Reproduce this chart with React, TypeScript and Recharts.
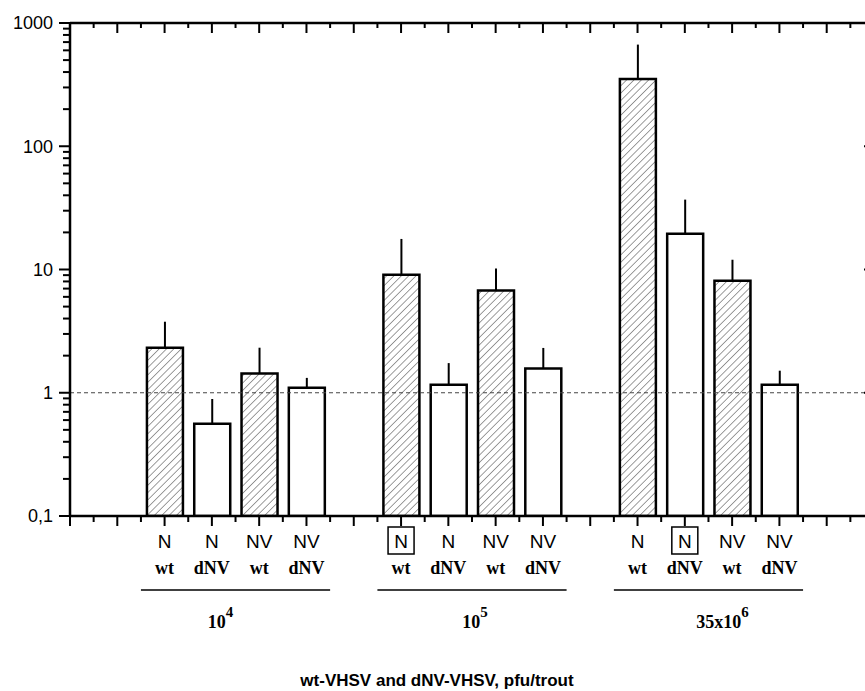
import { BarChart, Bar, XAxis, YAxis, Cell, ErrorBar, ReferenceLine } from "recharts";

// slot of each bar on the x axis (1 unit = 1 slot), three dose groups of four bars
const POSITIONS = [2, 3, 4, 5, 7, 8, 9, 10, 12, 13, 14, 15];
const SEGMENT = ["N", "N", "NV", "NV", "N", "N", "NV", "NV", "N", "N", "NV", "NV"];
const STRAIN = ["wt", "dNV", "wt", "dNV", "wt", "dNV", "wt", "dNV", "wt", "dNV", "wt", "dNV"];
const BOXED = [false, false, false, false, true, false, false, false, false, true, false, false];
const MEAN = [2.32, 0.56, 1.43, 1.1, 9.07, 1.16, 6.77, 1.57, 352, 19.5, 8.11, 1.16];
const UPPER = [3.77, 0.89, 2.32, 1.32, 17.7, 1.74, 10.2, 2.31, 668, 36.9, 12.0, 1.51];

const GROUP_CENTERS = [3.5, 8.5, 13.5];
const GROUP_BASE = ["10", "10", "35x10"];
const GROUP_EXP = ["4", "5", "6"];
const GROUP_DX = [-15, 3, 14];

const Y_MAJOR = [0.1, 1, 10, 100, 1000];
const Y_TICKS = Y_MAJOR.flatMap((d) => (d < 1000 ? [2, 3, 4, 5, 6, 7, 8, 9].map((m) => +(d * m).toPrecision(3)) : [])).concat(Y_MAJOR);
const X_MAX = 17;
const X_TICKS = Array.from({ length: X_MAX * 2 + 1 }, (_, i) => i / 2);

const ROWS = POSITIONS.map((pos, i) => ({ pos, mean: MEAN[i], err: [0, UPPER[i] - MEAN[i]] }));

const W = 900;
const H = 691;
const TOP = 23;
const LEFT_W = 70;
const RIGHT_W = 26;
const UNIT = (W - LEFT_W - RIGHT_W) / X_MAX;

const SANS = "'Liberation Sans', Arial, sans-serif";
const SERIF = "'Liberation Serif', 'Times New Roman', serif";

const fmtY = (v: number) => String(v).replace(".", ",");

const LeftTick = ({ x, y, payload }: any) => {
  const major = Y_MAJOR.includes(payload.value);
  return (
    <g>
      <line x1={x - (major ? 11 : 7)} x2={x} y1={y} y2={y} stroke="#000" strokeWidth={2} />
      {major && (
        <text x={x - 17} y={y} dy="0.36em" textAnchor="end" fontSize={18} fontFamily={SANS} fill="#000">
          {fmtY(payload.value)}
        </text>
      )}
    </g>
  );
};

const RightTick = ({ x, y, payload }: any) => {
  const major = Y_MAJOR.includes(payload.value);
  return <line x1={x - (major ? 10 : 6)} x2={x} y1={y} y2={y} stroke="#000" strokeWidth={2} />;
};

// top axis ticks point down into the plot
const TopTick = ({ x, payload }: any) => {
  const major = Number.isInteger(payload.value);
  return <line x1={x} x2={x} y1={TOP} y2={TOP + (major ? 10 : 5)} stroke="#000" strokeWidth={2} />;
};

const BottomTick = ({ x, y, payload }: any) => {
  const v = payload.value;
  const major = Number.isInteger(v);
  const i = POSITIONS.indexOf(v);
  const g = GROUP_CENTERS.indexOf(v);
  return (
    <g>
      <line x1={x} x2={x} y1={y} y2={y + (major ? 10 : 6)} stroke="#000" strokeWidth={2} />
      {i >= 0 && (
        <g>
          {BOXED[i] && <rect x={x - 13} y={y + 11} width={26} height={27} fill="none" stroke="#000" strokeWidth={1.5} />}
          <text x={x} y={y + 32} textAnchor="middle" fontSize={19} fontFamily={SANS} fill="#000">
            {SEGMENT[i]}
          </text>
          <text x={x} y={y + 58} textAnchor="middle" fontSize={18} fontWeight="bold" fontFamily={SERIF} fill="#000">
            {STRAIN[i]}
          </text>
        </g>
      )}
      {g >= 0 && (
        <g>
          <line x1={x - 2 * UNIT} x2={x + 2 * UNIT} y1={y + 74} y2={y + 74} stroke="#000" strokeWidth={1.5} />
          <text x={x + GROUP_DX[g]} y={y + 112} textAnchor="middle" fontWeight="bold" fontFamily={SERIF} fill="#000">
            <tspan fontSize={18}>{GROUP_BASE[g]}</tspan>
            <tspan fontSize={15} dy={-11}>{GROUP_EXP[g]}</tspan>
          </text>
        </g>
      )}
    </g>
  );
};

export default function App() {
  return (
    <div style={{ position: "absolute", left: 0, top: 0, width: 865, height: H, overflow: "hidden", background: "#fff" }}>
      <BarChart width={W} height={H} data={ROWS} margin={{ top: 3, right: 0, bottom: 0, left: 0 }}>
        <defs>
          <pattern id="hatch" patternUnits="userSpaceOnUse" width={5.2} height={5.2} patternTransform="rotate(45)">
            <line x1={0} y1={0} x2={0} y2={5.2} stroke="#3a3a3a" strokeWidth={1} />
          </pattern>
        </defs>
        <XAxis
          dataKey="pos"
          type="number"
          domain={[0, X_MAX]}
          allowDataOverflow
          ticks={X_TICKS}
          interval={0}
          height={H - 516}
          tickSize={0}
          tickMargin={0}
          tickLine={false}
          tick={(p: any) => <BottomTick {...p} />}
          axisLine={{ stroke: "#000", strokeWidth: 2.5 }}
        />
        <XAxis
          xAxisId="top"
          orientation="top"
          type="number"
          dataKey="pos"
          domain={[0, X_MAX]}
          allowDataOverflow
          ticks={X_TICKS}
          interval={0}
          height={TOP - 3}
          tickSize={0}
          tickMargin={0}
          tickLine={false}
          tick={(p: any) => <TopTick {...p} />}
          axisLine={{ stroke: "#000", strokeWidth: 2.5 }}
        />
        <YAxis
          type="number"
          scale="log"
          domain={[0.1, 1000]}
          allowDataOverflow
          ticks={Y_TICKS}
          interval={0}
          width={LEFT_W}
          tickSize={0}
          tickMargin={0}
          tickLine={false}
          tick={(p: any) => <LeftTick {...p} />}
          axisLine={{ stroke: "#000", strokeWidth: 2.5 }}
        />
        <YAxis
          yAxisId="right"
          orientation="right"
          type="number"
          scale="log"
          domain={[0.1, 1000]}
          allowDataOverflow
          ticks={Y_TICKS}
          interval={0}
          width={RIGHT_W}
          tickSize={0}
          tickMargin={0}
          tickLine={false}
          tick={(p: any) => <RightTick {...p} />}
          axisLine={{ stroke: "#000", strokeWidth: 2.5 }}
        />
        <Bar dataKey="mean" barSize={36} stroke="#000" strokeWidth={2.5} isAnimationActive={false}>
          {ROWS.map((_, i) => (
            <Cell key={i} fill={STRAIN[i] === "wt" ? "url(#hatch)" : "#fff"} />
          ))}
          <ErrorBar dataKey="err" width={0} stroke="#000" strokeWidth={2} direction="y" isAnimationActive={false} />
        </Bar>
        <ReferenceLine y={1} stroke="#444" strokeWidth={1} strokeDasharray="4 3" />
      </BarChart>
      <div
        style={{
          position: "absolute",
          left: 0,
          top: 671,
          width: 874,
          textAlign: "center",
          fontFamily: SANS,
          fontWeight: "bold",
          fontSize: 17,
          lineHeight: "20px",
        }}
      >
        wt-VHSV and dNV-VHSV, pfu/trout
      </div>
    </div>
  );
}
